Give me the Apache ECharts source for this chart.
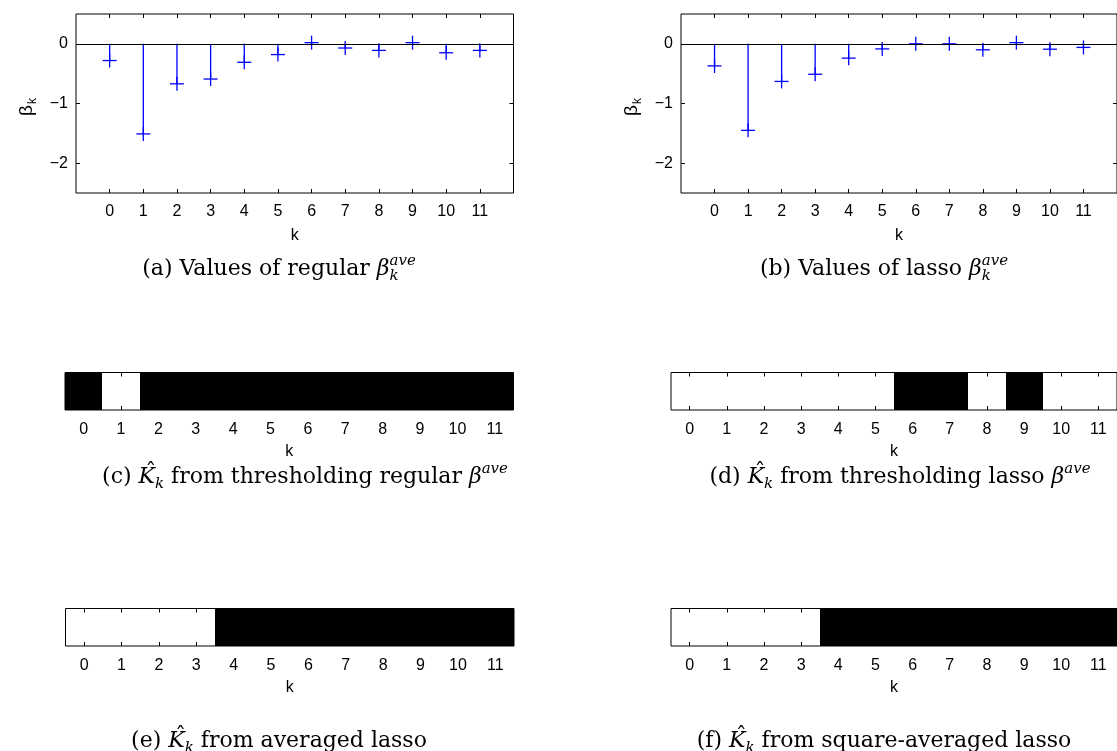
<!DOCTYPE html>
<html lang="en">
  <head>
    <meta charset="UTF-8" />
    <title>beta and K-hat</title>
    <script src="https://cdn.jsdelivr.net/npm/echarts@6/dist/echarts.min.js"></script>
    <style>
      html, body { margin: 0; padding: 0; background: #fff; }
      #chart { width: 1117px; height: 751px; }
    </style>
  </head>
  <body>
    <div id="chart"></div>
    <script>
      // data
      var kList = [0, 1, 2, 3, 4, 5, 6, 7, 8, 9, 10, 11];
      var kLabels = ["0", "1", "2", "3", "4", "5", "6", "7", "8", "9", "10", "11"];
      var betaTicks = [-2, -1, 0];
      var regularBeta = [-0.28, -1.51, -0.67, -0.59, -0.31, -0.18, 0.02, -0.07, -0.11, 0.02, -0.15, -0.11];
      var lassoBeta = [-0.37, -1.45, -0.63, -0.51, -0.24, -0.085, 0.0, 0.0, -0.1, 0.02, -0.09, -0.06];
      // 1 = black cell, 0 = white cell
      var khatRegular = [1, 0, 1, 1, 1, 1, 1, 1, 1, 1, 1, 1];
      var khatLasso = [0, 0, 0, 0, 0, 0, 1, 1, 0, 1, 0, 0];
      var khatAveraged = [0, 0, 0, 0, 1, 1, 1, 1, 1, 1, 1, 1];
      var khatSquareAveraged = [0, 0, 0, 0, 1, 1, 1, 1, 1, 1, 1, 1];

      var SANS = '"Liberation Sans", Arial, sans-serif';
      var SERIF = '"DejaVu Serif", serif';
      var BLUE = "#0000ff";
      var FS = 16;

      function minus(v) {
        return v < 0 ? "\u2212" + Math.abs(v) : String(v);
      }

      var grids = [
        { left: 76, top: 14, width: 437.5, height: 179 },
        { left: 681, top: 14, width: 437.5, height: 179 },
        { left: 65, top: 372.5, width: 448.5, height: 37.5 },
        { left: 671, top: 372.5, width: 448.5, height: 37.5 },
        { left: 65.5, top: 608.5, width: 448.5, height: 37.5 },
        { left: 671, top: 608.5, width: 448.5, height: 37.5 }
      ].map(function(g) {
        return Object.assign({ show: true, borderColor: "#000", borderWidth: 1, backgroundColor: "transparent", z: 6 }, g);
      });

      var xAxes = [];
      var yAxes = [];
      var series = [];
      var labelStyle = { fontFamily: SANS, fontSize: FS, color: "#000" };

      // stem plots (a), (b)
      [regularBeta, lassoBeta].forEach(function(vals, i) {
        var common = {
          type: "value", gridIndex: i, min: -1, max: 12, z: 10,
          axisLine: { show: false, onZero: false }, splitLine: { show: false },
          axisTick: { inside: true, length: 4, customValues: kList, lineStyle: { color: "#000" } }
        };
        xAxes.push(Object.assign({}, common, {
          position: "bottom",
          name: "k", nameLocation: "middle", nameGap: 35,
          nameTextStyle: labelStyle,
          axisLabel: Object.assign({ customValues: kList, margin: 10.5 }, labelStyle)
        }));
        xAxes.push(Object.assign({}, common, { position: "top", axisLabel: { show: false } }));
        var ycommon = {
          type: "value", gridIndex: i, min: -2.5, max: 0.5, z: 10,
          axisLine: { show: false, onZero: false }, splitLine: { show: false },
          axisTick: { inside: true, length: 4, customValues: betaTicks, lineStyle: { color: "#000" } }
        };
        yAxes.push(Object.assign({}, ycommon, {
          position: "left",
          axisLabel: Object.assign({ customValues: betaTicks, margin: 8, formatter: minus }, labelStyle)
        }));
        yAxes.push(Object.assign({}, ycommon, { position: "right", axisLabel: { show: false } }));

        series.push({
          type: "custom",
          xAxisIndex: i * 2,
          yAxisIndex: i * 2,
          data: kList.map(function(k, j) { return [k, vals[j]]; }),
          renderItem: function(params, api) {
            var x = api.value(0), y = api.value(1);
            var p0 = api.coord([x, 0]);
            var p1 = api.coord([x, y]);
            var h = 7;
            var st = { stroke: BLUE, lineWidth: 1.3 };
            return {
              type: "group",
              children: [
                { type: "line", shape: { x1: p0[0], y1: p0[1], x2: p1[0], y2: p1[1] }, style: st },
                { type: "line", shape: { x1: p1[0] - h, y1: p1[1], x2: p1[0] + h, y2: p1[1] }, style: st },
                { type: "line", shape: { x1: p1[0], y1: p1[1] - h, x2: p1[0], y2: p1[1] + h }, style: st }
              ]
            };
          },
          markLine: {
            silent: true, symbol: "none", animation: false,
            label: { show: false },
            lineStyle: { color: "#000", width: 1, type: "solid" },
            data: [{ yAxis: 0 }]
          },
          z: 3
        });
      });

      // K-hat strips (c) - (f)
      [khatRegular, khatLasso, khatAveraged, khatSquareAveraged].forEach(function(vals, n) {
        var gi = n + 2;
        var common = {
          type: "category", gridIndex: gi, data: kLabels, z: 10,
          axisLine: { show: false, onZero: false }, splitLine: { show: false },
          axisTick: { show: true, inside: true, length: 4, alignWithLabel: true, interval: 0, lineStyle: { color: "#000", width: 1 } }
        };
        xAxes.push(Object.assign({}, common, {
          position: "bottom",
          name: "k", nameLocation: "middle", nameGap: 34,
          nameTextStyle: labelStyle,
          axisLabel: Object.assign({ margin: 12, interval: 0 }, labelStyle)
        }));
        xAxes.push(Object.assign({}, common, { position: "top", axisLabel: { show: false } }));
        yAxes.push({
          type: "category", gridIndex: gi, data: [""],
          axisLine: { show: false, onZero: false }, axisTick: { show: false }, axisLabel: { show: false }
        });
        series.push({
          type: "custom",
          xAxisIndex: gi * 2,
          yAxisIndex: gi + 2,
          data: vals.map(function(v, j) { return [j, 0, v]; }),
          renderItem: function(params, api) {
            var c = api.coord([api.value(0), api.value(1)]);
            var s = api.size([1, 1]);
            // snap cell edges to whole pixels so neighbouring cells leave no seam
            var x1 = Math.round(c[0] - s[0] / 2), x2 = Math.round(c[0] + s[0] / 2);
            var y1 = Math.round(c[1] - s[1] / 2), y2 = Math.round(c[1] + s[1] / 2);
            return {
              type: "rect",
              shape: { x: x1, y: y1, width: x2 - x1, height: y2 - y1 },
              style: { fill: api.value(2) ? "#000" : "#fff", stroke: null, lineWidth: 0 }
            };
          },
          z: 1
        });
      });

      // captions with sub/superscripts, placed from measured text widths
      var MAIN = 22, SMALL = 15;
      var measureCtx = document.createElement("canvas").getContext("2d");
      function textWidth(t, size, italic) {
        measureCtx.font = (italic ? "italic " : "") + size + "px " + SERIF;
        return measureCtx.measureText(t).width;
      }
      function caption(cx, cy, parts) {
        var cursor = 0, lastStart = 0, placed = [];
        parts.forEach(function(p) {
          var size = p.sub || p.sup ? SMALL : MAIN;
          var w = textWidth(p.t, size, p.it);
          var x = p.stack ? lastStart : cursor;
          if (!p.stack) lastStart = x;
          placed.push({ p: p, x: x, w: w, size: size });
          cursor = Math.max(cursor, x + w);
        });
        var x0 = cx - cursor / 2;
        var base = cy + 0.32 * MAIN;
        var els = [];
        placed.forEach(function(q) {
          var dy = q.p.sub ? 5 : q.p.sup ? -10 : 0;
          els.push({
            type: "text",
            x: x0 + q.x,
            y: base + dy - 0.32 * q.size,
            style: {
              text: q.p.t,
              fontFamily: SERIF,
              fontSize: q.size,
              fontStyle: q.p.it ? "italic" : "normal",
              fill: "#000",
              align: "left",
              verticalAlign: "middle"
            }
          });
          if (q.p.hat) {
            els.push({
              type: "text",
              x: x0 + q.x + q.w / 2 + 4,
              y: cy - 4,
              style: { text: "\u02c6", fontFamily: SERIF, fontSize: MAIN, fill: "#000", align: "center", verticalAlign: "middle" }
            });
          }
        });
        return els;
      }
      // rotated y-axis title beta_k
      function betaLabel(x, y) {
        return {
          type: "group", x: x, y: y, rotation: Math.PI / 2,
          children: [
            { type: "text", x: -1, y: 0, style: { text: "\u03b2", fontFamily: SANS, fontSize: 19, fill: "#000", align: "right", verticalAlign: "middle" } },
            { type: "text", x: 0, y: 6, style: { text: "k", fontFamily: SANS, fontSize: 12, fill: "#000", align: "left", verticalAlign: "middle" } }
          ]
        };
      }
      var betaAve = [{ t: "\u03b2", it: true }, { t: "k", it: true, sub: true }, { t: "ave", it: true, sup: true, stack: true }];
      var khat = [{ t: "K", it: true, hat: true }, { t: "k", it: true, sub: true }];
      var graphics = [betaLabel(27, 104), betaLabel(632, 104)]
        .concat(caption(279, 269, [{ t: "(a) Values of regular " }].concat(betaAve)))
        .concat(caption(884, 269, [{ t: "(b) Values of lasso " }].concat(betaAve)))
        .concat(caption(305, 477, [{ t: "(c) " }].concat(khat, [{ t: " from thresholding regular " }, { t: "\u03b2", it: true }, { t: "ave", it: true, sup: true }])))
        .concat(caption(900, 477, [{ t: "(d) " }].concat(khat, [{ t: " from thresholding lasso " }, { t: "\u03b2", it: true }, { t: "ave", it: true, sup: true }])))
        .concat(caption(279, 741, [{ t: "(e) " }].concat(khat, [{ t: " from averaged lasso" }])))
        .concat(caption(884, 741, [{ t: "(f) " }].concat(khat, [{ t: " from square-averaged lasso" }])));

      var option = {
        animation: false,
        backgroundColor: "#fff",
        grid: grids,
        xAxis: xAxes,
        yAxis: yAxes,
        graphic: graphics,
        series: series
      };

      var chart = echarts.init(document.getElementById("chart"));
      chart.setOption(option);
      window.onresize = function() {
        chart.resize();
      };
    </script>
  </body>
</html>
